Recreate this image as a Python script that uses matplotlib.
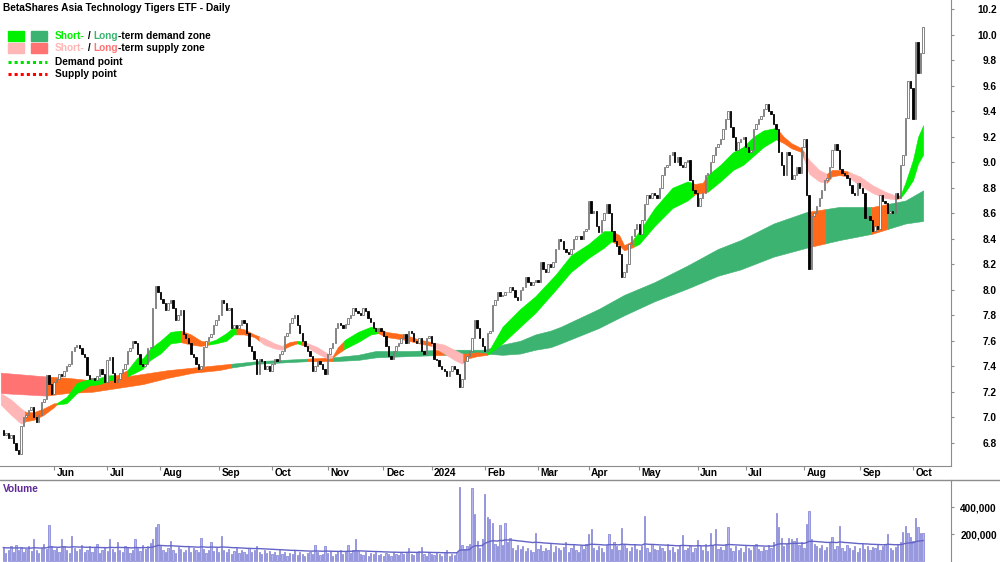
import matplotlib
matplotlib.use("Agg")
import matplotlib.pyplot as plt
from matplotlib.patches import Rectangle
from matplotlib.lines import Line2D
from matplotlib.transforms import blended_transform_factory
import numpy as np
import pandas as pd

plt.rcParams['font.family'] = ['Liberation Sans', 'DejaVu Sans']

# ASX trading days shown on the chart
holidays = ['2023-06-12', '2023-12-25', '2023-12-26', '2024-01-01', '2024-01-26',
            '2024-03-29', '2024-04-01', '2024-04-25', '2024-06-10']
dates = pd.bdate_range('2023-05-04', '2024-10-07', freq='C', holidays=holidays)

# daily closes
closes = [
    6.86, 6.88, 6.84, 6.86, 6.80, 6.74, 6.71, 6.93, 7.00, 7.02,
    7.06, 7.08, 7.00, 6.96, 7.02, 7.12, 7.14, 7.33, 7.26, 7.18,
    7.28, 7.30, 7.34, 7.32, 7.36, 7.40, 7.42, 7.52, 7.55, 7.57,
    7.54, 7.50, 7.47, 7.33, 7.30, 7.31, 7.29, 7.32, 7.38, 7.34,
    7.28, 7.45, 7.47, 7.35, 7.28, 7.30, 7.35, 7.38, 7.42, 7.52,
    7.54, 7.60, 7.58, 7.50, 7.42, 7.40, 7.42, 7.54, 7.55, 7.86,
    8.03, 7.98, 7.93, 7.90, 7.84, 7.90, 7.92, 7.86, 7.76, 7.80,
    7.84, 7.65, 7.62, 7.58, 7.50, 7.47, 7.42, 7.38, 7.40, 7.55,
    7.60, 7.63, 7.65, 7.72, 7.76, 7.80, 7.92, 7.90, 7.84, 7.86,
    7.70, 7.72, 7.70, 7.72, 7.76, 7.74, 7.66, 7.56, 7.52, 7.46,
    7.34, 7.46, 7.44, 7.38, 7.40, 7.36, 7.42, 7.46, 7.44, 7.50,
    7.52, 7.64, 7.66, 7.74, 7.78, 7.80, 7.72, 7.66, 7.60, 7.56,
    7.52, 7.48, 7.36, 7.40, 7.44, 7.42, 7.38, 7.34, 7.50, 7.54,
    7.58, 7.70, 7.74, 7.72, 7.70, 7.73, 7.78, 7.80, 7.86, 7.83,
    7.82, 7.80, 7.86, 7.83, 7.78, 7.75, 7.70, 7.68, 7.70, 7.68,
    7.64, 7.56, 7.48, 7.46, 7.52, 7.56, 7.58, 7.62, 7.65, 7.58,
    7.68, 7.66, 7.60, 7.58, 7.62, 7.52, 7.50, 7.62, 7.64, 7.58,
    7.46, 7.45, 7.40, 7.38, 7.36, 7.32, 7.36, 7.40, 7.38, 7.34,
    7.24, 7.30, 7.44, 7.48, 7.52, 7.62, 7.76, 7.70, 7.62, 7.56,
    7.52, 7.66, 7.68, 7.88, 7.92, 7.98, 7.95, 7.96, 7.98, 7.98,
    8.02, 8.00, 7.94, 7.92, 8.00, 8.02, 8.10, 8.06, 8.04, 8.06,
    8.08, 8.06, 8.22, 8.16, 8.14, 8.20, 8.18, 8.22, 8.32, 8.40,
    8.38, 8.32, 8.30, 8.28, 8.32, 8.40, 8.42, 8.42, 8.40, 8.46,
    8.48, 8.70, 8.60, 8.62, 8.50, 8.45, 8.55, 8.60, 8.67, 8.60,
    8.46, 8.38, 8.34, 8.28, 8.10, 8.14, 8.20, 8.36, 8.42, 8.48,
    8.52, 8.44, 8.55, 8.67, 8.74, 8.72, 8.76, 8.74, 8.72, 8.80,
    8.90, 8.96, 8.98, 9.06, 9.08, 9.00, 9.04, 8.98, 8.96, 9.00,
    9.02, 8.86, 8.78, 8.76, 8.66, 8.72, 8.76, 8.90, 8.92, 9.00,
    9.06, 9.12, 9.14, 9.18, 9.26, 9.34, 9.40, 9.28, 9.20, 9.10,
    9.16, 9.18, 9.20, 9.12, 9.08, 9.10, 9.26, 9.30, 9.34, 9.36,
    9.42, 9.46, 9.40, 9.38, 9.30, 9.26, 9.08, 8.98, 8.90, 9.08,
    9.06, 8.87, 8.90, 8.96, 8.92, 9.12, 9.18, 8.74, 8.16, 8.58,
    8.60, 8.66, 8.72, 8.78, 8.86, 8.88, 8.96, 9.10, 9.14, 9.10,
    8.95, 8.92, 8.90, 8.88, 8.82, 8.76, 8.74, 8.84, 8.80, 8.76,
    8.56, 8.58, 8.55, 8.46, 8.50, 8.48, 8.74, 8.70, 8.68, 8.60,
    8.62, 8.60, 8.76, 8.72, 8.98, 9.06, 9.35, 9.64, 9.58, 9.34,
    9.94, 9.70, 9.86, 10.06,
]
first_open = 6.90

# daily volume, thousands of units
volume_k = [
    95, 60, 85, 110, 70, 120, 80, 105, 65, 90, 115, 75, 167, 85, 60, 100, 125, 90, 268, 110,
    80, 95, 70, 167, 115, 85, 60, 188, 100, 75, 90, 120, 65, 85, 110, 70, 95, 130, 60, 80,
    105, 75, 167, 90, 65, 140, 85, 70, 115, 95, 60, 80, 160, 100, 75, 120, 90, 110, 135, 167,
    254, 275, 110, 85, 70, 95, 150, 80, 60, 105, 90, 70, 85, 115, 65, 95, 80, 70, 174, 90,
    60, 85, 145, 75, 95, 70, 188, 80, 65, 90, 55, 75, 100, 60, 85, 70, 50, 95, 65, 80,
    110, 70, 55, 85, 60, 75, 50, 65, 45, 80, 55, 70, 40, 60, 50, 85, 45, 65, 55, 40,
    60, 70, 50, 116, 65, 45, 55, 110, 60, 75, 40, 55, 65, 80, 50, 70, 120, 60, 85, 160,
    75, 55, 45, 65, 40, 60, 50, 70, 45, 55, 35, 60, 50, 40, 65, 55, 45, 70, 50, 60,
    100, 55, 45, 65, 75, 105, 50, 40, 60, 55, 45, 70, 50, 35, 60, 80, 40, 55, 45, 65,
    550, 120, 90, 110, 130, 540, 348, 150, 100, 167, 500, 330, 314, 283, 130, 110, 270, 120, 283, 140,
    174, 100, 80, 120, 90, 110, 75, 95, 85, 70, 210, 90, 120, 75, 100, 85, 130, 70, 110, 95,
    80, 105, 140, 70, 95, 120, 85, 65, 110, 90, 130, 200, 240, 100, 80, 115, 95, 70, 120, 200,
    90, 140, 110, 85, 245, 120, 95, 75, 105, 130, 90, 80, 115, 333, 100, 70, 125, 90, 80, 110,
    95, 75, 130, 85, 105, 70, 90, 120, 192, 80, 100, 115, 65, 95, 157, 110, 85, 130, 75, 210,
    120, 240, 90, 105, 80, 130, 250, 95, 75, 110, 85, 100, 70, 120, 95, 80, 115, 130, 90, 75,
    105, 85, 120, 95, 140, 355, 250, 174, 110, 130, 170, 165, 150, 170, 120, 140, 100, 275, 372, 160,
    130, 110, 95, 120, 85, 105, 140, 180, 90, 115, 260, 100, 75, 120, 95, 85, 110, 70, 100, 130,
    90, 115, 80, 105, 95, 120, 85, 110, 130, 200, 95, 80, 105, 120, 140, 215, 260, 210, 175, 150,
    320, 255, 205, 205,
]
volume_avg_seed = 100000

# short-term zone edges (bar index, upper, lower)
short_x = [-1, 3, 7, 9, 12, 16, 20, 21, 25, 29, 34, 38, 42, 45, 49, 53, 55, 58, 62, 66,
           70, 74, 78, 81, 84, 88, 91, 95, 99, 103, 107, 110, 113, 116, 119, 124, 128, 130,
           132, 135, 140, 145, 148, 151, 158, 164, 169, 174, 178, 181, 183, 187, 191, 197,
           204, 210, 218, 224, 231, 237, 240, 243, 245, 248, 251, 257, 264, 270, 273, 276,
           278, 283, 288, 292, 296, 300, 305, 308, 311, 315, 318, 322, 325, 327, 330, 333,
           338, 343, 348, 352, 354, 356, 359, 361, 363]
short_hi = [7.19, 7.14, 7.07, 7.04, 7.04, 7.07, 7.11, 7.11, 7.16, 7.27, 7.30, 7.31, 7.33, 7.33,
            7.37, 7.47, 7.46, 7.54, 7.60, 7.67, 7.68, 7.65, 7.60, 7.59, 7.61, 7.66, 7.71, 7.69,
            7.65, 7.62, 7.58, 7.56, 7.59, 7.60, 7.59, 7.55, 7.50, 7.48, 7.55, 7.61, 7.67, 7.71,
            7.70, 7.67, 7.65, 7.61, 7.59, 7.57, 7.53, 7.50, 7.50, 7.51, 7.50, 7.71, 7.85, 7.95,
            8.12, 8.27, 8.36, 8.46, 8.46, 8.43, 8.35, 8.38, 8.46, 8.64, 8.80, 8.85, 8.83, 8.84,
            8.90, 8.98, 9.08, 9.12, 9.20, 9.25, 9.27, 9.20, 9.15, 9.11, 9.02, 8.94, 8.91, 8.94,
            8.94, 8.93, 8.89, 8.82, 8.77, 8.74, 8.74, 8.84, 9.02, 9.20, 9.29]
short_lo = [7.10, 7.02, 6.95, 6.97, 6.98, 7.02, 7.08, 7.10, 7.11, 7.19, 7.25, 7.26, 7.29, 7.30,
            7.32, 7.36, 7.38, 7.45, 7.50, 7.58, 7.59, 7.57, 7.56, 7.57, 7.58, 7.60, 7.65, 7.65,
            7.63, 7.57, 7.54, 7.53, 7.56, 7.58, 7.56, 7.50, 7.46, 7.47, 7.50, 7.54, 7.59, 7.65,
            7.66, 7.63, 7.61, 7.58, 7.56, 7.50, 7.45, 7.42, 7.46, 7.48, 7.49, 7.58, 7.71, 7.82,
            8.00, 8.14, 8.25, 8.33, 8.38, 8.35, 8.31, 8.33, 8.36, 8.50, 8.64, 8.70, 8.75, 8.76,
            8.77, 8.85, 8.94, 8.98, 9.05, 9.12, 9.18, 9.15, 9.11, 9.08, 8.91, 8.85, 8.84, 8.89,
            8.90, 8.89, 8.82, 8.76, 8.72, 8.71, 8.72, 8.77, 8.86, 8.99, 9.06]
# state along the short zone: D demand, S supply, C price inside the zone
short_state = [(-1, 8.5, 'S'), (8.5, 21, 'C'), (21, 44, 'D'), (44, 49, 'C'), (49, 70, 'D'),
               (70, 81, 'C'), (81, 92, 'D'), (92, 101, 'C'), (101, 111, 'S'), (111, 116, 'C'),
               (116, 117.5, 'D'), (117.5, 119, 'C'), (119, 130, 'S'), (130, 134.5, 'C'),
               (134.5, 148, 'D'), (148, 169, 'C'), (169, 181.5, 'S'), (181.5, 191, 'C'),
               (191, 240.5, 'D'), (240.5, 249, 'C'), (249, 272.5, 'D'), (272.5, 278, 'C'),
               (278, 305.5, 'D'), (305.5, 316, 'C'), (316, 325, 'S'), (325, 333.5, 'C'),
               (333.5, 352, 'S'), (352, 354, 'C'), (354, 363, 'D')]

# long-term zone edges
long_x = [-1, 17, 25, 35, 45, 55, 65, 75, 85, 90, 100, 110, 120, 130, 140, 147, 160, 175,
          190, 197, 204, 210, 216, 220, 235, 245, 257, 270, 282, 291, 304, 317, 330, 343,
          356, 363]
long_hi = [7.35, 7.32, 7.31, 7.29, 7.31, 7.34, 7.37, 7.39, 7.41, 7.42, 7.44, 7.45, 7.46, 7.47,
           7.49, 7.52, 7.52, 7.53, 7.53, 7.57, 7.60, 7.65, 7.68, 7.71, 7.85, 7.96, 8.06, 8.19,
           8.32, 8.39, 8.52, 8.61, 8.65, 8.65, 8.70, 8.78]
long_lo = [7.19, 7.17, 7.19, 7.20, 7.23, 7.26, 7.31, 7.35, 7.37, 7.39, 7.42, 7.43, 7.44, 7.44,
           7.45, 7.47, 7.48, 7.49, 7.50, 7.49, 7.50, 7.53, 7.55, 7.58, 7.70, 7.80, 7.91, 8.01,
           8.11, 8.16, 8.26, 8.33, 8.39, 8.44, 8.52, 8.54]
long_state = [(-1, 17, 'S'), (17, 90, 'C'), (90, 120, 'D'), (120, 130, 'C'), (130, 170, 'D'),
              (170, 174, 'C'), (174, 318, 'D'), (318, 324.3, 'C'), (324.3, 342.4, 'D'),
              (342.4, 349.1, 'C'), (349.1, 363, 'D')]

LIME, DKGREEN, PINK, SALMON, ORANGE = '#00f000', '#3cb371', '#ffb6b6', '#ff7373', '#ff6a1a'
short_cols = {'D': LIME, 'S': PINK, 'C': ORANGE}
long_cols = {'D': DKGREEN, 'S': SALMON, 'C': ORANGE}
FS = 7.3

closes = np.array(closes)
opens = np.r_[first_open, closes[:-1]]
vol = np.array(volume_k) * 1000.0
n = len(closes)
x = np.arange(n)

W, H = 1000, 562
fig = plt.figure(figsize=(W / 100, H / 100), dpi=100)
ax = fig.add_axes([0, 1 - 466 / H, 951 / W, 466 / H])
vax = fig.add_axes([0, 0, 951 / W, 82 / H])
GRAY = '#8c8c8c'


def draw_zone(bx, bu, bl, states, cols, z):
    for s, e, st in states:
        xs = np.array([s] + [v for v in bx if s < v < e] + [e], dtype=float)
        ax.fill_between(xs, np.interp(xs, bx, bl), np.interp(xs, bx, bu),
                        facecolor=cols[st], edgecolor=cols[st], lw=0.4, zorder=z)


draw_zone(long_x, long_hi, long_lo, long_state, long_cols, 1)
draw_zone(short_x, short_hi, short_lo, short_state, short_cols, 2)

up = closes >= opens
ax.bar(x[up], closes[up] - opens[up], bottom=opens[up], width=0.55,
       color='white', edgecolor='#707070', linewidth=0.6, zorder=4)
ax.bar(x[~up], opens[~up] - closes[~up], bottom=closes[~up], width=0.55,
       color='black', edgecolor='black', linewidth=0.6, zorder=4)

ax.set_xlim(-1.3, 374)
ax.set_ylim(6.618, 10.273)
for sp in ['left', 'top']:
    ax.spines[sp].set_visible(False)
for sp in ['right', 'bottom']:
    ax.spines[sp].set_color(GRAY)

ax.yaxis.tick_right()
yt = np.round(np.arange(6.8, 10.21, 0.2), 1)
ax.set_yticks(yt)
ax.set_yticklabels([f'{v:.1f}' for v in yt])
ax.tick_params(axis='y', direction='out', length=2.5, pad=30.5, color=GRAY,
               labelsize=FS)
for lab in ax.get_yticklabels():
    lab.set_ha('right')
    lab.set_fontweight('bold')

# month ticks along the date strip
month_idx = [i for i in range(1, n) if dates[i].month != dates[i - 1].month]
ax.set_xticks(month_idx)
ax.set_xticklabels([])
ax.tick_params(axis='x', direction='out', length=3, color=GRAY)
tr = blended_transform_factory(ax.transData, ax.transAxes)
for i in month_idx:
    lab = '2024' if dates[i].month == 1 else dates[i].strftime('%b')
    ax.text(i + 1.0, -0.004, lab, transform=tr, ha='left', va='top',
            fontsize=FS, fontweight='bold')

# volume panel
vax.bar(x, vol, width=0.5, color='#b4b4ee', edgecolor='#7c7cd2', linewidth=0.5)
vol_avg = pd.Series(np.r_[volume_avg_seed, vol]).ewm(span=50, adjust=False).mean().values[1:]
vax.plot(x, vol_avg, color='#6464c8', lw=1.0)
vax.set_xlim(-1.3, 374)
vax.set_ylim(-7000, 601000)
vax.set_xticks([])
for sp in ['left', 'bottom', 'top']:
    vax.spines[sp].set_visible(False)
vax.spines['right'].set_color(GRAY)
vax.yaxis.tick_right()
vax.set_yticks([200000, 400000])
vax.set_yticklabels(['200,000', '400,000'])
vax.tick_params(axis='y', direction='out', length=2.5, pad=30.5, color=GRAY,
                labelsize=FS)
for lab in vax.get_yticklabels():
    lab.set_ha('right')
    lab.set_fontweight('bold')
fig.add_artist(Line2D([0, 1], [1 - 480 / H] * 2, color=GRAY, lw=1))
fig.text(3 / W, 1 - 489 / H, 'Volume', color='#5e2a96', fontsize=FS,
         fontweight='bold', va='center')

# title and legend
fig.text(3 / W, 1 - 8 / H, 'BetaShares Asia Technology Tigers ETF - Daily',
         fontsize=FS, fontweight='bold', va='center')


def fy(py):
    return 1 - py / H


for (px, py, c) in [(8, 31, LIME), (31, 31, DKGREEN), (8, 43, PINK), (31, 43, SALMON)]:
    fig.add_artist(Rectangle((px / W, fy(py + 10)), 16 / W, 10 / H, color=c,
                             transform=fig.transFigure))
fig.add_artist(Line2D([8 / W, 47 / W], [fy(62)] * 2, color='#00e000', lw=2.2,
                      ls=(0, (1, 1))))
fig.add_artist(Line2D([8 / W, 47 / W], [fy(74)] * 2, color='#ff0000', lw=2.2,
                      ls=(0, (1, 1))))

renderer = fig.canvas.get_renderer()


def pieces(py, parts):
    px = 55 / W
    for txt, col in parts:
        t = fig.text(px, fy(py), txt, color=col, fontsize=FS, fontweight='bold',
                     va='center', ha='left')
        bb = t.get_window_extent(renderer)
        px += bb.width / W


pieces(36, [('Short-', LIME), (' / ', 'black'), ('Long', DKGREEN),
            ('-term demand zone', 'black')])
pieces(48, [('Short-', PINK), (' / ', 'black'), ('Long', SALMON),
            ('-term supply zone', 'black')])
pieces(62, [('Demand point', 'black')])
pieces(74, [('Supply point', 'black')])

fig.savefig('out.png', dpi=100)
